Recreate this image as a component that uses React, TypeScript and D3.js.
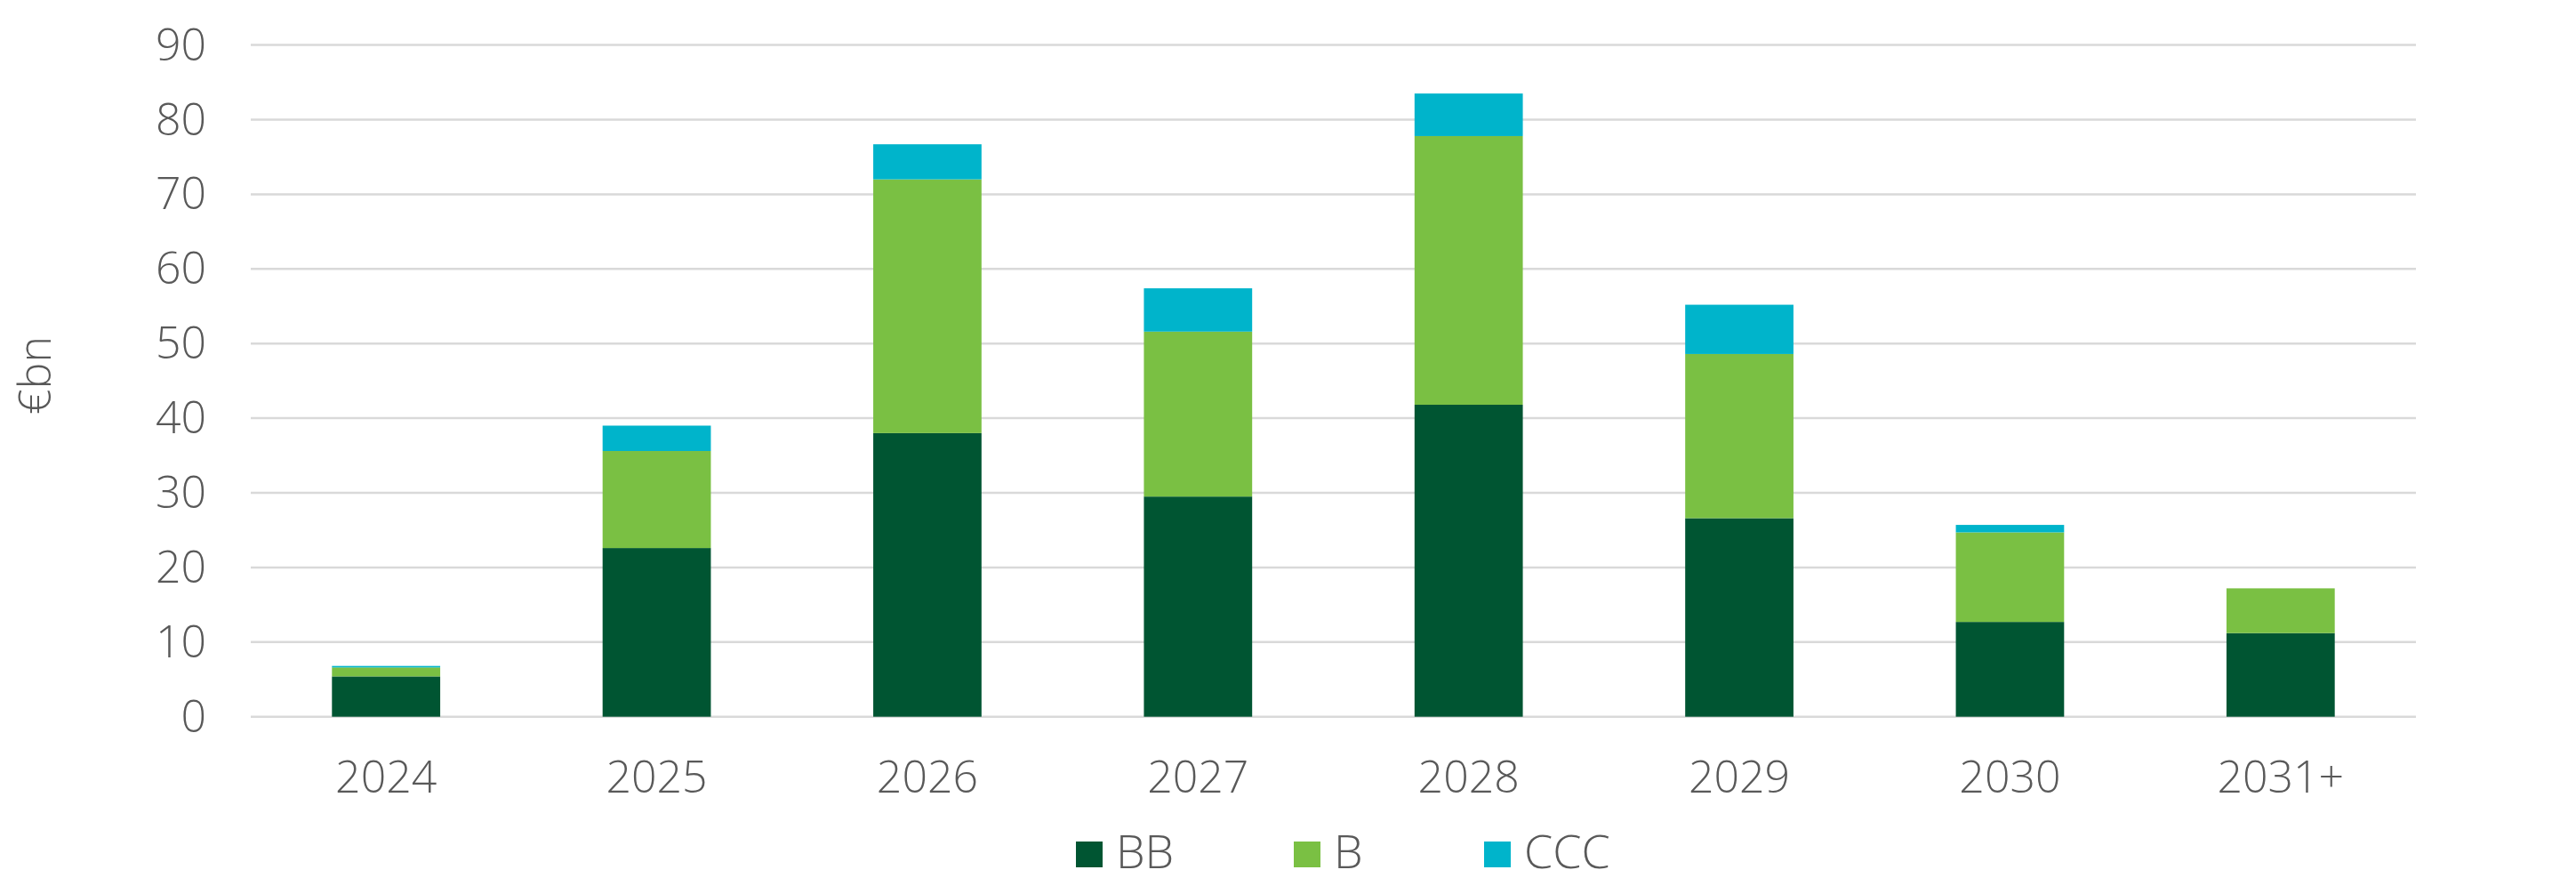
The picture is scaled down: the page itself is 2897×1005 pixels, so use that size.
import React from "react";
import * as d3 from "d3";

const categories = ["2024", "2025", "2026", "2027", "2028", "2029", "2030", "2031+"];
const bbValues = [5.4, 22.6, 38.0, 29.5, 41.8, 26.6, 12.7, 11.2];
const bValues = [1.2, 13.0, 34.0, 22.1, 36.0, 22.0, 12.0, 6.0];
const cccValues = [0.2, 3.4, 4.7, 5.8, 5.7, 6.6, 1.0, 0.0];
const seriesNames = ["BB", "B", "CCC"];
const seriesColors = ["#005532", "#7AC043", "#00B4CB"];
const yTicks = [0, 10, 20, 30, 40, 50, 60, 70, 80, 90];
const yLabel = "€bn";

const W = 2897;
const H = 1005;
const FONT = "'Open Sans', 'Lato', sans-serif";
const TXT = "#595959";

export default function App() {
  const x = d3
    .scaleBand<string>()
    .domain(categories)
    .range([282, 2717])
    .paddingInner(0.6)
    .paddingOuter(0.3);
  const y = d3.scaleLinear().domain([0, 90]).range([805.7, 50.6]);

  const rows = categories.map((c, i) => ({
    cat: c,
    BB: bbValues[i],
    B: bValues[i],
    CCC: cccValues[i],
  }));
  const stack = d3.stack<any>().keys(seriesNames)(rows);

  const legendX = [1210, 1455, 1669];

  return (
    <svg
      width={W}
      height={H}
      style={{ position: "absolute", left: 0, top: 0, background: "#fff" }}
      fontFamily={FONT}
    >
      <rect x={0} y={0} width={W} height={H} fill="#fff" />
      {yTicks.map((t) => (
        <g key={t}>
          <line x1={282} x2={2717} y1={y(t)} y2={y(t)} stroke="#d9d9d9" strokeWidth={2.5} />
          <text
            x={232}
            y={y(t) + 17}
            textAnchor="end"
            fontSize={50}
            fontWeight={300}
            fill={TXT}
          >
            {t}
          </text>
        </g>
      ))}
      <text
        transform={`translate(57, 422) rotate(-90)`}
        textAnchor="middle"
        fontSize={50}
        fontWeight={300}
        fill={TXT}
      >
        {yLabel}
      </text>
      {stack.map((s, si) => (
        <g key={seriesNames[si]} fill={seriesColors[si]}>
          {s.map((d, i) => {
            const h = y(d[0]) - y(d[1]);
            if (h <= 0) return null;
            return (
              <rect
                key={i}
                x={x(categories[i])}
                y={y(d[1])}
                width={x.bandwidth()}
                height={h}
              />
            );
          })}
        </g>
      ))}
      {categories.map((c) => (
        <text
          key={c}
          x={(x(c) as number) + x.bandwidth() / 2}
          y={891}
          textAnchor="middle"
          fontSize={50}
          fontWeight={300}
          fill={TXT}
        >
          {c}
        </text>
      ))}
      {seriesNames.map((n, i) => (
        <g key={n}>
          <rect x={legendX[i]} y={946} width={30} height={29} fill={seriesColors[i]} />
          <text x={legendX[i] + 45} y={976} fontSize={52} fontWeight={300} fill={TXT}>
            {n}
          </text>
        </g>
      ))}
    </svg>
  );
}
